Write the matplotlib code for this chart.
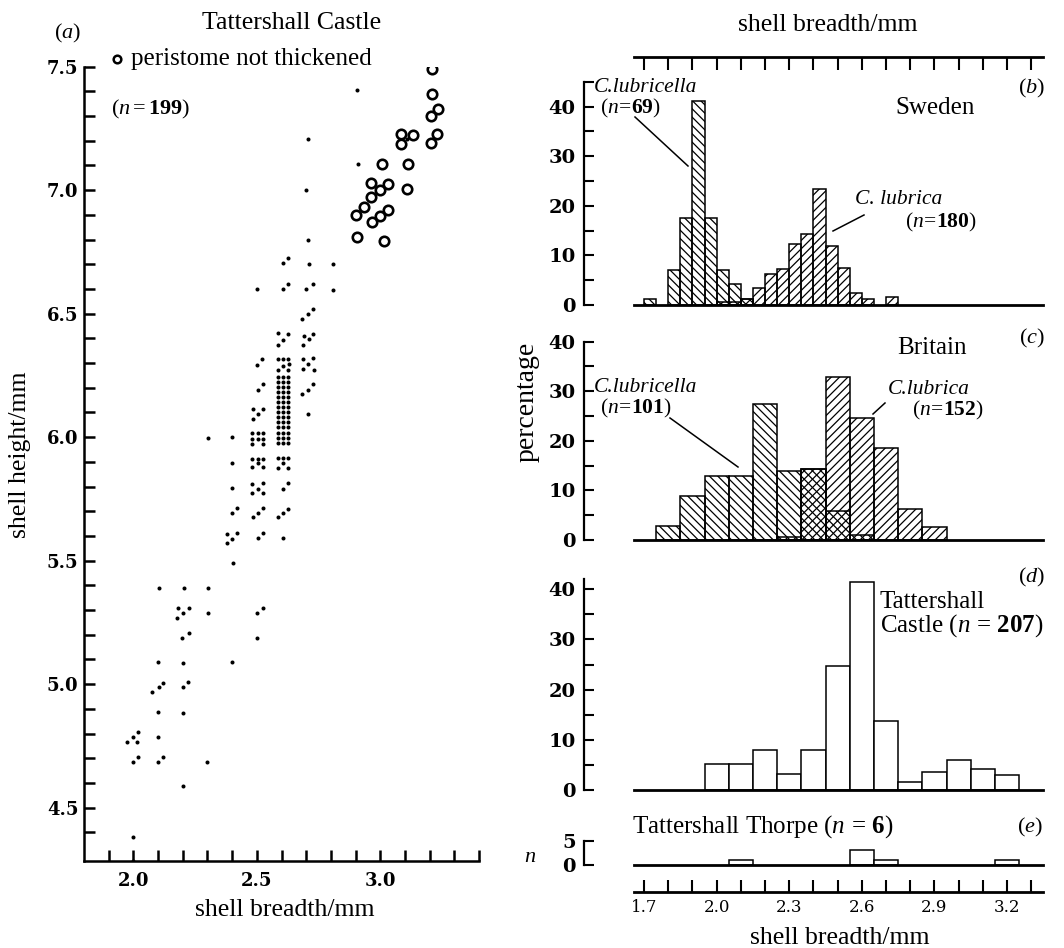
import numpy as np
import matplotlib
matplotlib.use("Agg")
import matplotlib.pyplot as plt
from matplotlib.lines import Line2D

# ---- scatter (a): shell breadth, shell height (mm) ----
col_20 = [(1.976, 4.767), (2.000, 4.787), (2.019, 4.805), (2.016, 4.766), (1.997, 4.687),
          (2.019, 4.707), (2.000, 4.383), (2.000, 4.285)]
col_21 = [(2.103, 5.39), (2.100, 5.09), (2.077, 4.968), (2.103, 4.989), (2.121, 5.004),
          (2.100, 4.888), (2.099, 4.787), (2.099, 4.687), (2.120, 4.707)]
col_22 = [(2.205, 5.39), (2.181, 5.31), (2.224, 5.31), (2.202, 5.29), (2.178, 5.27),
          (2.198, 5.188), (2.224, 5.208), (2.200, 5.087), (2.200, 4.989), (2.221, 5.008),
          (2.200, 4.885), (2.200, 4.586)]
col_23 = [(2.304, 5.996), (2.302, 5.388), (2.302, 5.29), (2.300, 4.687)]
col_24 = [(2.400, 6.0), (2.400, 5.894), (2.400, 5.794), (2.400, 5.692), (2.420, 5.712),
          (2.380, 5.608), (2.420, 5.611), (2.400, 5.588), (2.380, 5.57), (2.404, 5.492),
          (2.400, 5.09)]
col_25 = [(2.502, 6.599), (2.522, 6.315), (2.502, 6.294), (2.526, 6.214), (2.504, 6.19),
          (2.483, 6.114), (2.526, 6.114), (2.506, 6.093), (2.483, 6.074),
          (2.480, 6.018), (2.503, 6.018), (2.526, 6.018), (2.480, 5.993), (2.503, 5.993),
          (2.526, 5.993), (2.480, 5.971), (2.526, 5.971),
          (2.480, 5.913), (2.503, 5.913), (2.526, 5.913), (2.503, 5.894), (2.480, 5.878),
          (2.526, 5.878), (2.480, 5.81), (2.526, 5.816), (2.503, 5.792), (2.480, 5.773),
          (2.526, 5.773), (2.526, 5.715), (2.506, 5.695), (2.483, 5.676), (2.526, 5.612),
          (2.506, 5.592), (2.526, 5.31), (2.502, 5.287), (2.502, 5.186)]
col_26 = [(2.606, 6.704), (2.628, 6.724), (2.607, 6.599), (2.625, 6.62),
          (2.586, 6.42), (2.625, 6.418), (2.607, 6.393), (2.585, 6.375),
          (2.586, 6.315), (2.607, 6.315), (2.625, 6.315), (2.607, 6.288), (2.630, 6.295),
          (2.585, 6.273), (2.628, 6.273),
          (2.584, 6.245), (2.605, 6.245), (2.627, 6.245), (2.584, 6.225), (2.605, 6.225),
          (2.627, 6.225), (2.584, 6.205), (2.605, 6.205), (2.627, 6.205), (2.584, 6.184),
          (2.605, 6.184), (2.627, 6.184), (2.584, 6.164), (2.605, 6.164), (2.627, 6.164),
          (2.584, 6.144), (2.605, 6.144), (2.627, 6.144), (2.584, 6.121), (2.605, 6.121),
          (2.627, 6.121), (2.584, 6.101), (2.605, 6.101), (2.627, 6.101), (2.584, 6.080),
          (2.605, 6.080), (2.627, 6.080), (2.584, 6.060), (2.605, 6.060), (2.627, 6.060),
          (2.584, 6.040), (2.605, 6.040), (2.627, 6.040), (2.584, 6.016), (2.605, 6.016),
          (2.627, 6.016), (2.584, 5.995), (2.605, 5.995), (2.627, 5.995), (2.584, 5.975),
          (2.605, 5.975), (2.627, 5.975),
          (2.584, 5.917), (2.605, 5.917), (2.625, 5.917), (2.605, 5.897), (2.584, 5.877),
          (2.625, 5.877), (2.625, 5.813), (2.605, 5.789), (2.625, 5.709), (2.605, 5.694),
          (2.584, 5.676), (2.605, 5.591)]
col_27 = [(2.709, 7.206), (2.700, 7.0), (2.706, 6.80), (2.710, 6.70), (2.700, 6.60),
          (2.726, 6.62), (2.683, 6.478), (2.706, 6.50), (2.729, 6.519), (2.690, 6.41),
          (2.726, 6.417), (2.710, 6.396), (2.686, 6.373), (2.688, 6.317), (2.726, 6.321),
          (2.706, 6.295), (2.686, 6.275), (2.732, 6.273), (2.729, 6.217), (2.707, 6.193),
          (2.683, 6.175), (2.708, 6.093)]
col_28_31 = [(2.807, 6.70), (2.807, 6.596), (2.907, 7.405), (2.910, 7.105), (3.109, 7.206)]
# peristome not thickened (open rings)
rings = [(3.210, 7.49), (3.210, 7.39), (3.205, 7.30), (3.235, 7.33), (3.205, 7.19),
         (3.228, 7.226), (3.083, 7.187), (3.083, 7.227), (3.134, 7.223), (3.113, 7.105),
         (3.107, 7.005), (3.008, 7.105), (2.961, 7.03), (3.032, 7.026), (2.999, 7.0),
         (2.961, 6.974), (2.900, 6.90), (2.934, 6.93), (2.965, 6.872), (2.999, 6.895),
         (3.030, 6.92), (2.907, 6.81), (3.016, 6.794)]

# ---- histograms ----
# (b) Sweden, 0.05 mm classes (left edges), percentage
swe_lubricella_left = [1.70, 1.80, 1.85, 1.90, 1.95, 2.00, 2.05, 2.10]
swe_lubricella_pct = [1.3, 7.0, 17.6, 41.2, 17.6, 7.0, 4.3, 1.3]
swe_lubrica_left = [2.00, 2.05, 2.10, 2.15, 2.20, 2.25, 2.30, 2.35, 2.40, 2.45, 2.50, 2.55, 2.60, 2.70]
swe_lubrica_pct = [0.6, 0.6, 1.2, 3.4, 6.3, 7.2, 12.3, 14.4, 23.4, 11.8, 7.4, 2.4, 1.3, 1.7]
# (c) Britain, 0.1 mm classes (centres)
bri_lubricella_mid = [1.8, 1.9, 2.0, 2.1, 2.2, 2.3, 2.4, 2.5, 2.6]
bri_lubricella_pct = [2.8, 8.9, 13.0, 13.0, 27.4, 14.0, 14.4, 5.9, 1.0]
bri_lubrica_mid = [2.3, 2.4, 2.5, 2.6, 2.7, 2.8, 2.9]
bri_lubrica_pct = [0.7, 14.3, 32.9, 24.5, 18.5, 6.3, 2.6]
# (d) Tattershall Castle
castle_mid = [2.0, 2.1, 2.2, 2.3, 2.4, 2.5, 2.6, 2.7, 2.8, 2.9, 3.0, 3.1, 3.2]
castle_pct = [5.2, 5.2, 7.9, 3.1, 7.9, 24.7, 41.5, 13.8, 1.5, 3.5, 5.9, 4.1, 2.9]
# (e) Tattershall Thorpe, counts
thorpe_mid = [2.1, 2.6, 2.7, 3.2]
thorpe_n = [1, 3, 1, 1]

plt.rcParams['font.family'] = 'serif'
plt.rcParams['font.serif'] = ['Liberation Serif', 'DejaVu Serif']
plt.rcParams['mathtext.fontset'] = 'custom'
plt.rcParams['mathtext.rm'] = 'Liberation Serif'
plt.rcParams['mathtext.it'] = 'Liberation Serif:italic'
plt.rcParams['mathtext.bf'] = 'Liberation Serif:bold'
plt.rcParams['hatch.linewidth'] = 0.9

W, H = 1064, 948
fig = plt.figure(figsize=(W / 100, H / 100), dpi=100)


def box(x0, y0, x1, y1):
    return [x0 / W, 1 - y1 / H, (x1 - x0) / W, (y1 - y0) / H]


def txt(x, y, s, **kw):
    kw.setdefault('va', 'center')
    kw.setdefault('fontsize', 18)
    fig.text(x / W, 1 - y / H, s, **kw)


def leader(x0, y0, x1, y1):
    fig.add_artist(Line2D([x0 / W, x1 / W], [1 - y0 / H, 1 - y1 / H], color='black', lw=1.1))


def digit_labels(ax, weight='bold'):
    for t in ax.get_xticklabels() + ax.get_yticklabels():
        t.set_fontweight(weight)
        t.set_fontfamily('DejaVu Serif')


# ---------------- (a) scatter ----------------
axA = fig.add_axes(box(83.9, 66.7, 479.1, 860.8))
dots = col_20 + col_21 + col_22 + col_23 + col_24 + col_25 + col_26 + col_27 + col_28_31
axA.plot([p[0] for p in dots], [p[1] for p in dots], 'o', ms=2.9, color='black', mew=0)
axA.plot([p[0] for p in rings], [p[1] for p in rings], 'o', ms=6.8, mfc='none',
         mec='black', mew=1.9)
axA.set_xlim(1.8, 3.4)
axA.set_ylim(4.285, 7.5)
axA.spines[['top', 'right']].set_visible(False)
for s in ['left', 'bottom']:
    axA.spines[s].set_linewidth(1.8)
axA.set_xticks([2.0, 2.5, 3.0])
axA.set_xticks(np.arange(1.9, 3.41, 0.1), minor=True)
axA.set_yticks([4.5, 5.0, 5.5, 6.0, 6.5, 7.0, 7.5])
axA.set_yticks(np.arange(4.4, 7.51, 0.1), minor=True)
axA.tick_params(which='both', direction='in', length=8, width=1.8, labelsize=13)
axA.tick_params(axis='y', pad=4)
axA.tick_params(axis='x', pad=8)
digit_labels(axA)
axA.patch.set_visible(False)

txt(68, 33, r'$(a)$', ha='center', fontsize=16)
txt(292, 23, 'Tattershall Castle', ha='center', fontsize=18.5)
fig.add_artist(Line2D([117 / W], [1 - 59 / H], marker='o', ms=5.5, mfc='none', mec='black',
                      mew=1.8, linestyle='none'))
txt(131, 59, 'peristome not thickened')
txt(111, 109, r'$(n = \mathbf{199})$', fontsize=16)
txt(20, 455, 'shell height/mm', ha='center', rotation=90, fontsize=18.5)
txt(285, 910, 'shell breadth/mm', ha='center', fontsize=18.5)

# ---------------- right-hand histograms ----------------
PX0, PX1 = 634, 1043
X17, PPT = 644.0, 242.0           # pixel of 1.7 mm, pixels per mm
XL = 1.7 - (X17 - PX0) / PPT
XR = 1.7 + (PX1 - X17) / PPT


def hist_axes(y0, ppu, ymax, top, major, minor):
    ax = fig.add_axes(box(PX0, y0 - ymax * ppu, PX1, y0))
    ax.set_xlim(XL, XR)
    ax.set_ylim(0, ymax)
    ax.spines[['top', 'right']].set_visible(False)
    ax.spines['left'].set_position(('outward', 36))
    ax.spines['left'].set_bounds(0, top)
    ax.spines['left'].set_linewidth(1.6)
    ax.spines['bottom'].set_linewidth(2.0)
    ax.set_xticks([])
    ax.set_yticks(major)
    ax.set_yticks(minor, minor=True)
    ax.tick_params(axis='y', which='both', direction='in', length=7, width=1.5,
                   labelsize=14, pad=6)
    digit_labels(ax)
    ax.patch.set_visible(False)
    return ax


hatch_a = '\\\\\\\\'
hatch_b = '////'

axB = hist_axes(305, 4.96, 45, 45, [0, 10, 20, 30, 40], [5, 15, 25, 35, 45])
axB.bar(swe_lubricella_left, swe_lubricella_pct, width=0.05, align='edge', facecolor='none',
        edgecolor='black', hatch=hatch_a, lw=1.1)
axB.bar(swe_lubrica_left, swe_lubrica_pct, width=0.05, align='edge', facecolor='none',
        edgecolor='black', hatch=hatch_b, lw=1.1)

axC = hist_axes(540, 4.96, 40, 40, [0, 10, 20, 30, 40], [5, 15, 25, 35])
axC.bar(bri_lubricella_mid, bri_lubricella_pct, width=0.1, facecolor='none',
        edgecolor='black', hatch=hatch_a, lw=1.1)
axC.bar(bri_lubrica_mid, bri_lubrica_pct, width=0.1, facecolor='none',
        edgecolor='black', hatch=hatch_b, lw=1.1)

axD = hist_axes(790, 5.02, 42, 42, [0, 10, 20, 30, 40], [5, 15, 25, 35])
axD.bar(castle_mid, castle_pct, width=0.1, facecolor='white', edgecolor='black', lw=1.1)

axE = hist_axes(865, 4.86, 5, 5, [0, 5], [])
axE.bar(thorpe_mid, thorpe_n, width=0.1, facecolor='white', edgecolor='black', lw=1.1)

# top and bottom breadth scales
axT = fig.add_axes(box(PX0, 57, PX1, 70))
axT.set_xlim(XL, XR)
axT.spines[['bottom', 'left', 'right']].set_visible(False)
axT.spines['top'].set_linewidth(2.0)
axT.set_yticks([])
axT.xaxis.tick_top()
axT.set_xticks(np.arange(1.7, 3.31, 0.1))
axT.tick_params(axis='x', direction='in', length=9, width=1.5, labeltop=False)
axT.patch.set_visible(False)

axBt = fig.add_axes(box(PX0, 880, PX1, 892))
axBt.set_xlim(XL, XR)
axBt.spines[['top', 'left', 'right']].set_visible(False)
axBt.spines['bottom'].set_linewidth(2.0)
axBt.set_yticks([])
axBt.set_xticks([1.7, 2.0, 2.3, 2.6, 2.9, 3.2])
axBt.set_xticks(np.arange(1.8, 3.31, 0.1), minor=True)
axBt.tick_params(axis='x', which='both', direction='in', length=9, width=1.5,
                 labelsize=12, pad=5)
digit_labels(axBt, weight='normal')
axBt.patch.set_visible(False)

txt(828, 25, 'shell breadth/mm', ha='center', fontsize=18.5)
txt(840, 938, 'shell breadth/mm', ha='center', fontsize=18.5)
txt(527, 402, 'percentage', ha='center', rotation=90, fontsize=20)

# (b) annotations
txt(594, 88, 'C.lubricella', fontstyle='italic', fontsize=15.5)
txt(600, 108, r'$(n\!=\!\mathbf{69})$', fontsize=15.5)
txt(935, 108, 'Sweden', ha='center')
txt(1045, 88, r'$(b)$', ha='right', fontsize=16)
txt(855, 200, 'C. lubrica', fontstyle='italic', fontsize=15.5)
txt(905, 222, r'$(n\!=\!\mathbf{180})$', fontsize=15.5)
leader(635, 117, 688, 166)
leader(864, 215, 833, 231)

# (c) annotations
txt(594, 388, 'C.lubricella', fontstyle='italic', fontsize=15.5)
txt(600, 408, r'$(n\!=\!\mathbf{101})$', fontsize=15.5)
txt(932, 348, 'Britain', ha='center')
txt(1045, 338, r'$(c)$', ha='right', fontsize=16)
txt(888, 390, 'C.lubrica', fontstyle='italic', fontsize=15.5)
txt(912, 410, r'$(n\!=\!\mathbf{152})$', fontsize=15.5)
leader(670, 418, 738, 467)
leader(885, 403, 873, 414)

# (d) annotations
txt(1045, 577, r'$(d)$', ha='right', fontsize=16)
txt(880, 602, 'Tattershall')
txt(880, 626, r'Castle $(n\,=\,\mathbf{207})$')

# (e) annotations
txt(632, 827, r'Tattershall Thorpe $(n\,=\,\mathbf{6})$')
txt(1043, 827, r'$(e)$', ha='right', fontsize=16)
txt(530, 857, r'$n$', ha='center', fontsize=16)

fig.savefig('out.png', dpi=100)
